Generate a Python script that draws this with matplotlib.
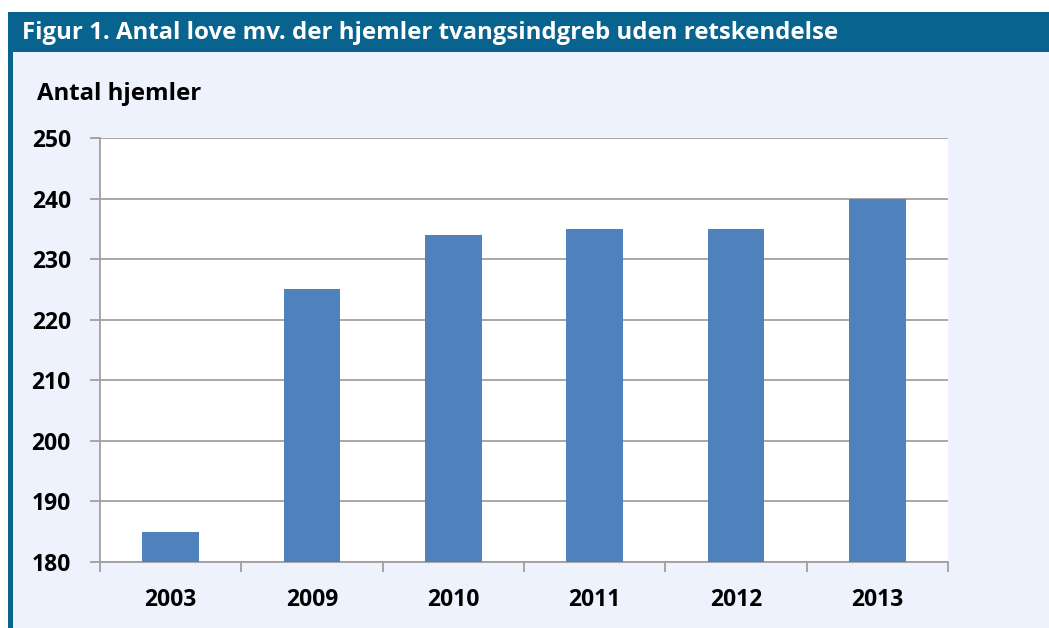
import matplotlib.pyplot as plt
from matplotlib.patches import Rectangle

years = ["2003", "2009", "2010", "2011", "2012", "2013"]
counts = [185, 225, 234, 235, 235, 240]

W, H = 1049, 628
BG = "#EEF2FD"
TEAL = "#08648F"
BAR = "#4F81BD"
GRID = "#A0A0A0"

plt.rcParams["font.family"] = ["Open Sans", "DejaVu Sans"]

fig = plt.figure(figsize=(W / 100, H / 100), dpi=100)
fig.patch.set_facecolor("white")

# background panel, title bar and left rule
fig.patches.append(Rectangle((8 / W, 0), 1, 1 - 12 / H, transform=fig.transFigure,
                             facecolor=BG, edgecolor="none", zorder=-3))
fig.patches.append(Rectangle((8 / W, 1 - 52 / H), 1, 40 / H, transform=fig.transFigure,
                             facecolor=TEAL, edgecolor="none", zorder=-2))
fig.patches.append(Rectangle((8 / W, 0), 5 / W, 1 - 12 / H, transform=fig.transFigure,
                             facecolor=TEAL, edgecolor="none", zorder=-2))
fig.text(22 / W, 1 - 33 / H, "Figur 1. Antal love mv. der hjemler tvangsindgreb uden retskendelse",
         color="white", fontsize=17.3, fontweight="bold", va="center", ha="left")
fig.text(37 / W, 1 - 94 / H, "Antal hjemler", color="black", fontsize=17.3,
         fontweight="bold", va="center", ha="left")

ax = fig.add_axes([100 / W, 66 / H, 848 / W, 424 / H])
ax.set_facecolor("white")
x = range(len(years))
ax.bar(x, counts, width=0.4, color=BAR, zorder=3)
ax.set_ylim(180, 250)
ax.set_xlim(-0.5, len(years) - 0.5)
ax.set_yticks(range(180, 251, 10))
ax.yaxis.grid(True, color=GRID, linewidth=1.3, zorder=0)
ax.set_xticks(list(x))
ax.set_xticklabels(years)
ax.set_xticks([i - 0.5 for i in range(len(years) + 1)], minor=True)
ax.tick_params(axis="x", which="major", length=0, pad=19, labelsize=16.5)
ax.tick_params(axis="x", which="minor", length=7, color=GRID, width=1.3)
ax.tick_params(axis="y", length=7, color=GRID, width=1.3, pad=14, labelsize=16.5)
for lab in ax.get_xticklabels() + ax.get_yticklabels():
    lab.set_fontweight("bold")
for side in ["top", "right"]:
    ax.spines[side].set_visible(False)
for side in ["left", "bottom"]:
    ax.spines[side].set_color(GRID)
    ax.spines[side].set_linewidth(1.3)

fig.savefig("out.png", dpi=100, facecolor=fig.get_facecolor())
